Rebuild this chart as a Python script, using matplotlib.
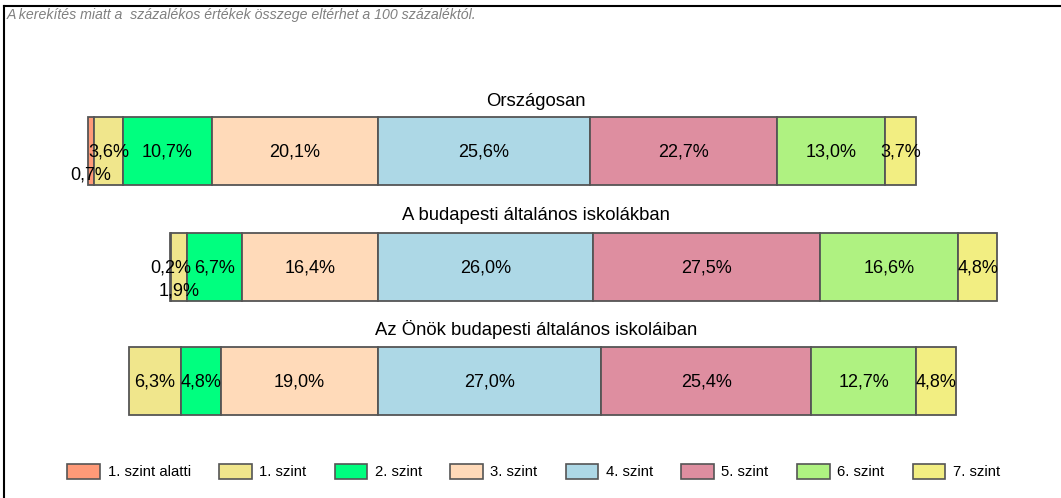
import numpy as np
import matplotlib.pyplot as plt
from matplotlib.lines import Line2D

plt.rcParams['font.family'] = ['Liberation Sans', 'DejaVu Sans']

levels = ["1. szint alatti", "1. szint", "2. szint", "3. szint",
          "4. szint", "5. szint", "6. szint", "7. szint"]
colors = ["#FF9A78", "#F0E68C", "#00FF7F", "#FFDAB9",
          "#ADD8E6", "#DE8EA0", "#AFF281", "#F2EE82"]

groups = ["Országosan",
          "A budapesti általános iskolákban",
          "Az Önök budapesti általános iskoláiban"]

orszagos = [0.7, 3.6, 10.7, 20.1, 25.6, 22.7, 13.0, 3.7]
budapest = [0.2, 1.9, 6.7, 16.4, 26.0, 27.5, 16.6, 4.8]
onok = [0.0, 6.3, 4.8, 19.0, 27.0, 25.4, 12.7, 4.8]
values = [orszagos, budapest, onok]

# labels pushed below the centre line (bar index, level index)
lowered = {(0, 0), (1, 1)}

fig = plt.figure(figsize=(10.61, 4.98), dpi=100)
ax = fig.add_axes([0, 0, 1, 1])
scale = 8.27  # pixels per percent
ax.set_xlim(-378 / scale, (1061 - 378) / scale)
ax.set_ylim(498, 0)
ax.axis('off')

bar_y = [150.5, 266.5, 381]
title_y = [101, 215, 329]
bar_h = 68

for i, vals in enumerate(values):
    vals = np.array(vals)
    # bars are aligned on the boundary between level 3 and level 4
    left = -vals[:4].sum()
    for j, v in enumerate(vals):
        if v > 0:
            ax.barh(bar_y[i], v, left=left, height=bar_h, color=colors[j],
                    edgecolor="#555555", linewidth=1.3)
            ty = bar_y[i] + (24 if (i, j) in lowered else 1)
            ax.text(left + v / 2, ty, f"{v:.1f}%".replace(".", ","),
                    ha="center", va="center", fontsize=13)
        left += v
    ax.text((536 - 378) / scale, title_y[i], groups[i], ha="center",
            va="center", fontsize=13.3)

handles = [plt.Rectangle((0, 0), 1, 1, facecolor=c, edgecolor="#555555",
                         linewidth=1.2) for c in colors]
fig.legend(handles, levels, loc="center", bbox_to_anchor=(0.503, 0.053),
           ncol=8, frameon=False, fontsize=10.7, handlelength=2.2,
           handleheight=1.2, handletextpad=0.5, columnspacing=1.9)

fig.text(7 / 1061, 1 - 15 / 498, "A kerekítés miatt a  százalékos értékek "
         "összege eltérhet a 100 százaléktól.", fontsize=10.2, style="italic",
         color="#808080", va="center")

fig.add_artist(Line2D([4 / 1061, 1], [1 - 6 / 498, 1 - 6 / 498],
                      color="black", linewidth=1.5))
fig.add_artist(Line2D([4 / 1061, 4 / 1061], [0, 1 - 6 / 498],
                      color="black", linewidth=1.5))

fig.savefig("out.png", dpi=100)
